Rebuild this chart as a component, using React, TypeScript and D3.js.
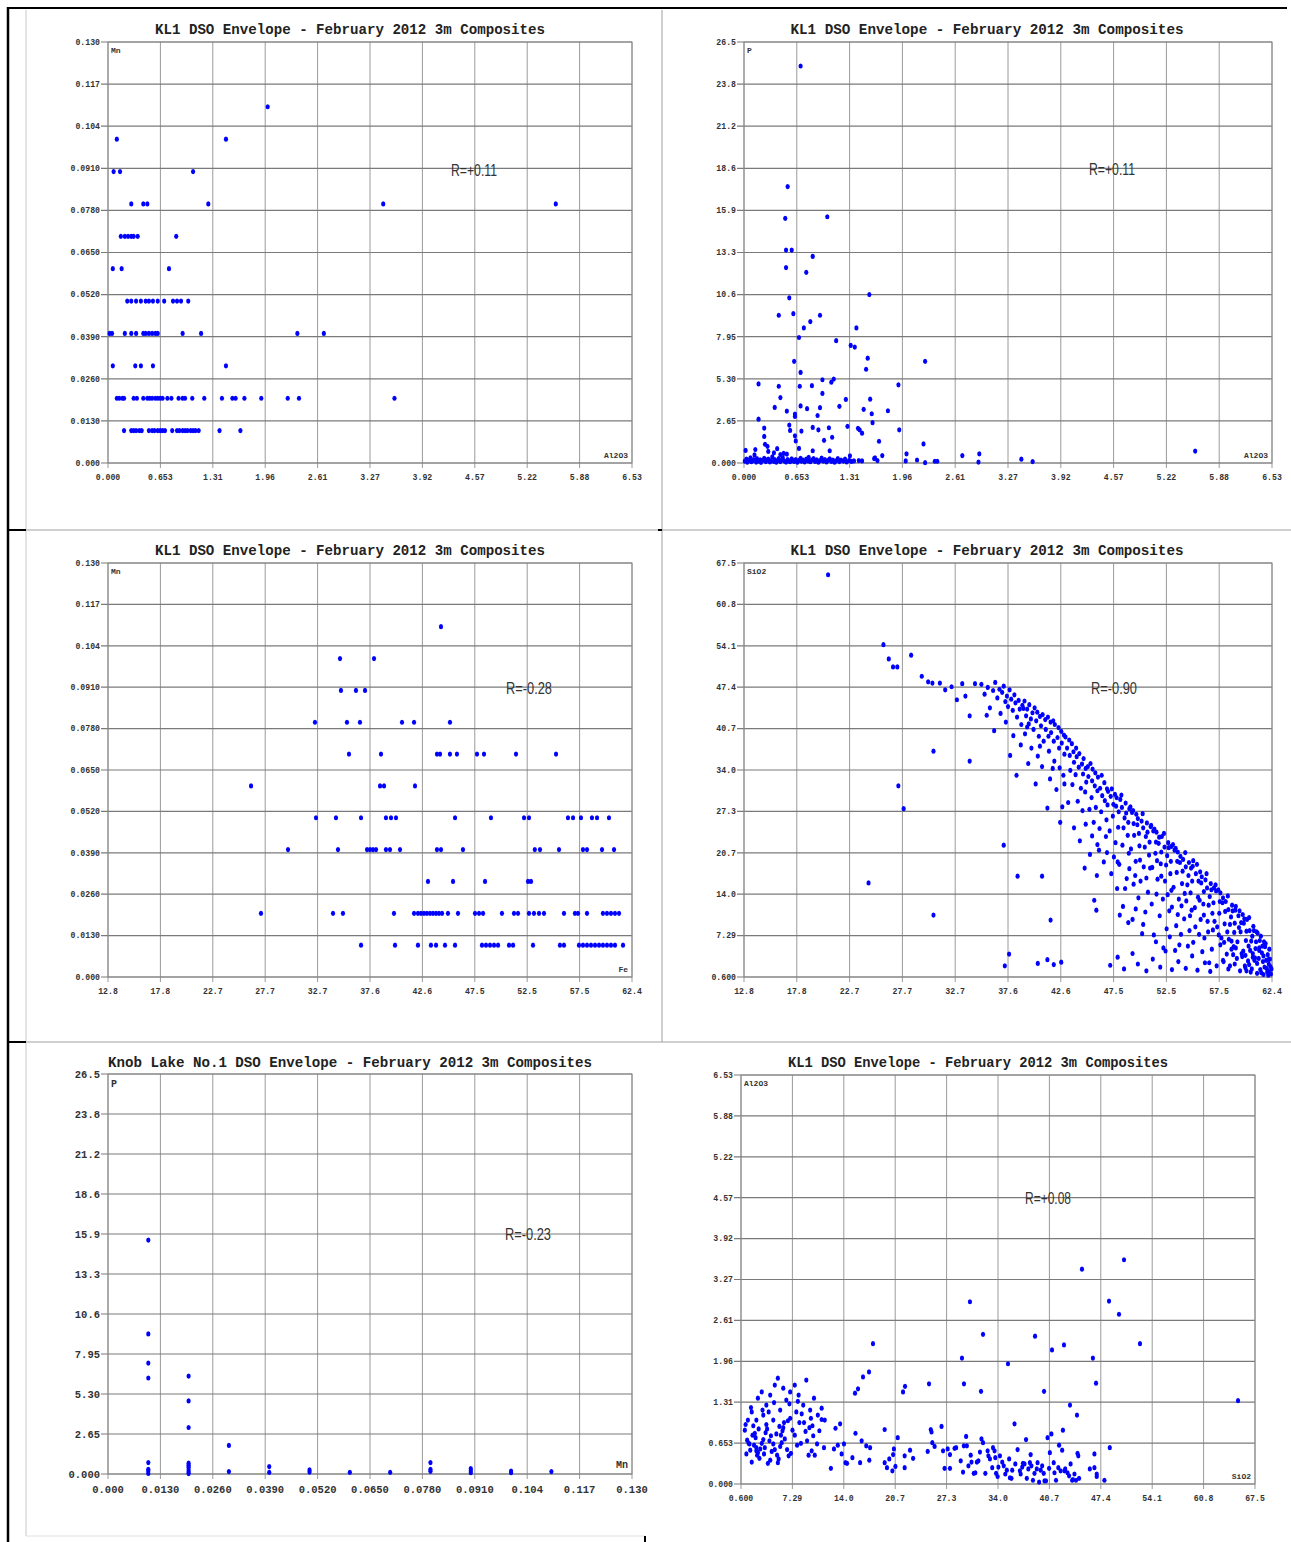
import React from "react";
import * as d3 from "d3";

const W = 1291;
const H = 1542;

// ---------- tick labels ----------
const ticksAl = ["0.000", "0.653", "1.31", "1.96", "2.61", "3.27", "3.92", "4.57", "5.22", "5.88", "6.53"];
const ticksMn = ["0.000", "0.0130", "0.0260", "0.0390", "0.0520", "0.0650", "0.0780", "0.0910", "0.104", "0.117", "0.130"];
const ticksP = ["0.000", "2.65", "5.30", "7.95", "10.6", "13.3", "15.9", "18.6", "21.2", "23.8", "26.5"];
const ticksFe = ["12.8", "17.8", "22.7", "27.7", "32.7", "37.6", "42.6", "47.5", "52.5", "57.5", "62.4"];
const ticksSi = ["0.600", "7.29", "14.0", "20.7", "27.3", "34.0", "40.7", "47.4", "54.1", "60.8", "67.5"];

// ---------- data ----------
// Panel 1: [Al2O3, Mn]
const mnVsAl: [number, number][] = [
  [1.99, 0.11],
  [0.11, 0.10], [1.47, 0.10],
  [0.07, 0.09], [0.15, 0.09], [1.06, 0.09],
  [0.29, 0.08], [0.44, 0.08], [0.49, 0.08], [1.25, 0.08], [3.43, 0.08], [5.58, 0.08],
  [0.16, 0.07], [0.21, 0.07], [0.25, 0.07], [0.29, 0.07], [0.32, 0.07], [0.37, 0.07], [0.85, 0.07],
  [0.06, 0.06], [0.17, 0.06], [0.76, 0.06],
  [0.24, 0.05], [0.29, 0.05], [0.35, 0.05], [0.41, 0.05], [0.47, 0.05], [0.51, 0.05], [0.56, 0.05], [0.62, 0.05], [0.70, 0.05], [0.81, 0.05], [0.86, 0.05], [0.91, 0.05], [1.00, 0.05],
  [0.02, 0.04], [0.05, 0.04], [0.21, 0.04], [0.29, 0.04], [0.35, 0.04], [0.44, 0.04], [0.47, 0.04], [0.51, 0.04], [0.55, 0.04], [0.59, 0.04], [0.62, 0.04], [0.93, 0.04], [1.16, 0.04], [2.36, 0.04], [2.69, 0.04],
  [0.06, 0.03], [0.34, 0.03], [0.41, 0.03], [0.56, 0.03], [1.47, 0.03],
  [0.11, 0.02], [0.14, 0.02], [0.18, 0.02], [0.20, 0.02], [0.32, 0.02], [0.36, 0.02], [0.44, 0.02], [0.49, 0.02], [0.52, 0.02], [0.55, 0.02], [0.59, 0.02], [0.62, 0.02], [0.65, 0.02], [0.68, 0.02], [0.74, 0.02], [0.79, 0.02], [0.88, 0.02], [0.93, 0.02], [0.96, 0.02], [1.05, 0.02], [1.20, 0.02], [1.42, 0.02], [1.55, 0.02], [1.59, 0.02], [1.70, 0.02], [1.91, 0.02], [2.24, 0.02], [2.38, 0.02], [3.57, 0.02],
  [0.20, 0.01], [0.29, 0.01], [0.32, 0.01], [0.35, 0.01], [0.39, 0.01], [0.42, 0.01], [0.51, 0.01], [0.55, 0.01], [0.58, 0.01], [0.62, 0.01], [0.65, 0.01], [0.68, 0.01], [0.71, 0.01], [0.80, 0.01], [0.86, 0.01], [0.89, 0.01], [0.93, 0.01], [0.96, 0.01], [0.99, 0.01], [1.03, 0.01], [1.06, 0.01], [1.09, 0.01], [1.13, 0.01], [1.39, 0.01], [1.65, 0.01],
];

// Panel 2: [Al2O3, P]
const pVsAl: [number, number][] = [
  [0.70, 24.99], [0.54, 17.4], [0.51, 15.4], [1.03, 15.5], [0.52, 13.4], [0.59, 13.4], [0.85, 13.0], [0.52, 12.3], [0.77, 12.0],
  [1.55, 10.6], [0.56, 10.4], [0.43, 9.3], [0.61, 9.4], [0.94, 9.3], [0.74, 8.5], [0.82, 8.9], [1.39, 8.5], [1.14, 7.7], [0.68, 7.9],
  [1.32, 7.4], [1.37, 7.3], [1.53, 6.6], [2.24, 6.4], [0.62, 6.4], [1.51, 5.9], [0.70, 5.7],
  [0.18, 4.98], [0.43, 4.83], [0.69, 4.83], [0.84, 4.87], [0.97, 5.24], [1.08, 5.09], [1.11, 5.28], [1.91, 4.92], [0.45, 4.12], [0.97, 4.38],
  [1.26, 4.0], [1.56, 4.02], [0.38, 3.5], [0.70, 3.59], [0.53, 3.27], [0.63, 3.08], [0.63, 2.93], [0.78, 3.42], [0.94, 3.48], [1.18, 3.57],
  [0.91, 2.99], [1.48, 3.38], [1.78, 3.29], [1.58, 3.10], [1.59, 2.54], [0.18, 2.76], [0.56, 2.39], [0.57, 2.05], [0.25, 2.20], [0.25, 1.67],
  [0.26, 1.18], [0.29, 1.05], [0.30, 0.73], [0.63, 1.71], [0.64, 1.39], [0.71, 2.01], [0.68, 0.92], [0.85, 2.24], [0.92, 2.09], [0.99, 1.43],
  [1.05, 2.22], [1.09, 1.62], [1.28, 2.31], [1.41, 2.18], [1.43, 2.09], [1.46, 1.88], [1.67, 1.37], [1.92, 2.09], [0.02, 0.79], [0.14, 0.85],
  [0.13, 0.51], [0.41, 0.90], [0.37, 0.64], [0.45, 0.53], [0.49, 0.60], [0.53, 0.56], [0.85, 0.77], [1.06, 0.77], [1.31, 0.45], [1.62, 0.32],
  [1.71, 0.47], [2.01, 0.58], [2.0, 0.13], [2.22, 1.20], [2.14, 0.19], [2.24, 0.02], [2.36, 0.11], [2.39, 0.11], [2.70, 0.47], [2.91, 0.58],
  [2.90, 0.06], [3.43, 0.24], [3.57, 0.09], [5.58, 0.75], [1.36, 0.13], [1.42, 0.15], [1.46, 0.13], [1.61, 0.28], [1.65, 0.15],
  [0.01, 0.12], [0.03, 0.25], [0.04, 0.05], [0.06, 0.18], [0.08, 0.32], [0.09, 0.08], [0.11, 0.15], [0.12, 0.22], [0.15, 0.06], [0.16, 0.28],
  [0.18, 0.12], [0.2, 0.2], [0.21, 0.04], [0.23, 0.16], [0.25, 0.3], [0.27, 0.09], [0.28, 0.18], [0.3, 0.25], [0.32, 0.07], [0.33, 0.14],
  [0.35, 0.38], [0.37, 0.1], [0.38, 0.22], [0.4, 0.05], [0.42, 0.16], [0.43, 0.27], [0.45, 0.09], [0.47, 0.19], [0.48, 0.33], [0.5, 0.12],
  [0.52, 0.06], [0.54, 0.21], [0.55, 0.14], [0.57, 0.08], [0.59, 0.26], [0.6, 0.16], [0.62, 0.1], [0.64, 0.22], [0.66, 0.05], [0.68, 0.17],
  [0.7, 0.3], [0.71, 0.11], [0.73, 0.19], [0.75, 0.07], [0.77, 0.24], [0.79, 0.13], [0.8, 0.35], [0.82, 0.08], [0.84, 0.18], [0.86, 0.27],
  [0.88, 0.1], [0.9, 0.2], [0.92, 0.05], [0.94, 0.15], [0.96, 0.31], [0.98, 0.12], [1.0, 0.22], [1.02, 0.07], [1.04, 0.17], [1.06, 0.26],
  [1.08, 0.1], [1.1, 0.19], [1.12, 0.05], [1.14, 0.14], [1.16, 0.28], [1.18, 0.09], [1.2, 0.18], [1.23, 0.12], [1.25, 0.24], [1.27, 0.07],
  [1.3, 0.16], [1.33, 0.1],
];

// Panel 3: [Fe, Mn]
const mnVsFe: [number, number][] = [
  [44.32, 0.11],
  [34.76, 0.10], [37.98, 0.10],
  [34.85, 0.09], [36.27, 0.09], [37.13, 0.09],
  [32.39, 0.08], [35.42, 0.08], [36.65, 0.08], [40.63, 0.08], [41.77, 0.08], [45.17, 0.08],
  [35.61, 0.07], [38.64, 0.07], [43.94, 0.07], [44.23, 0.07], [45.17, 0.07], [45.83, 0.07], [47.73, 0.07], [48.39, 0.07], [51.42, 0.07], [55.21, 0.07],
  [26.34, 0.06], [38.55, 0.06], [38.93, 0.06], [41.86, 0.06],
  [32.49, 0.05], [34.38, 0.05], [36.75, 0.05], [39.11, 0.05], [39.59, 0.05], [40.06, 0.05], [45.65, 0.05], [49.05, 0.05], [52.18, 0.05], [52.65, 0.05], [56.34, 0.05], [56.82, 0.05], [57.57, 0.05], [58.61, 0.05], [59.09, 0.05], [60.22, 0.05],
  [29.84, 0.04], [34.57, 0.04], [37.32, 0.04], [37.60, 0.04], [37.88, 0.04], [38.17, 0.04], [39.11, 0.04], [39.49, 0.04], [40.44, 0.04], [43.94, 0.04], [44.32, 0.04], [46.40, 0.04], [53.20, 0.04], [53.69, 0.04], [55.49, 0.04], [57.76, 0.04], [58.14, 0.04], [59.56, 0.04], [60.70, 0.04],
  [43.09, 0.03], [45.46, 0.03], [48.49, 0.03], [52.56, 0.03], [52.84, 0.03],
  [27.28, 0.02], [34.10, 0.02], [35.04, 0.02], [39.87, 0.02], [41.77, 0.02], [42.14, 0.02], [42.43, 0.02], [42.71, 0.02], [42.99, 0.02], [43.28, 0.02], [43.56, 0.02], [43.85, 0.02], [44.13, 0.02], [44.42, 0.02], [44.98, 0.02], [45.93, 0.02], [47.54, 0.02], [47.92, 0.02], [48.30, 0.02], [50.09, 0.02], [51.23, 0.02], [51.61, 0.02], [52.65, 0.02], [53.12, 0.02], [53.60, 0.02], [54.07, 0.02], [55.96, 0.02], [57.00, 0.02], [57.29, 0.02], [58.14, 0.02], [59.65, 0.02], [60.03, 0.02], [60.41, 0.02], [60.79, 0.02], [61.17, 0.02],
  [36.75, 0.01], [39.97, 0.01], [42.14, 0.01], [43.37, 0.01], [43.85, 0.01], [44.70, 0.01], [45.65, 0.01], [48.20, 0.01], [48.58, 0.01], [48.96, 0.01], [49.34, 0.01], [49.72, 0.01], [50.76, 0.01], [51.14, 0.01], [53.03, 0.01], [55.58, 0.01], [55.96, 0.01], [57.38, 0.01], [57.76, 0.01], [58.14, 0.01], [58.52, 0.01], [58.90, 0.01], [59.28, 0.01], [59.65, 0.01], [60.03, 0.01], [60.41, 0.01], [60.79, 0.01], [61.55, 0.01],
];

// Panel 4: [Fe, SiO2]
const siVsFe: [number, number][] = [
  [20.7, 65.6], [25.9, 54.3], [26.4, 52.0], [26.8, 50.7], [27.2, 50.7], [28.5, 52.6], [24.5, 15.8], [27.3, 31.5], [27.8, 27.8], [30.6, 37.1],
  [30.6, 10.6], [34.0, 35.5], [37.2, 21.9], [38.5, 16.9], [40.8, 16.9], [37.7, 4.3], [37.3, 2.4], [41.6, 9.8], [45.7, 13.0], [45.9, 11.4],
  [40.4, 2.8], [41.3, 3.4], [41.9, 2.6], [42.6, 3.0],
  [29.5, 49.2], [30.1, 48.3], [30.5, 48.1], [31.2, 48.1], [31.7, 47.0], [32.3, 47.5], [32.8, 45.4], [33.3, 48.0], [33.6, 46.0], [34.0, 42.8], [34.5, 48.0],
  [35.1, 47.9], [35.4, 46.3], [35.7, 47.4], [35.9, 44.1], [36.2, 46.9], [36.4, 48.2], [36.6, 45.7], [36.8, 47.1], [36.9, 43.2], [36.3, 40.4], [35.6, 42.9],
  [37.05, 46.6], [37.2, 47.6], [37.35, 45.1], [37.5, 46.0], [37.6, 44.3], [37.75, 47.0], [37.9, 45.5], [38.05, 43.7], [38.2, 46.2], [38.3, 44.9],
  [38.45, 42.6], [38.6, 45.3], [38.7, 43.9], [38.85, 41.4], [38.95, 44.5], [37.4, 41.8], [38.1, 39.6], [38.8, 38.1], [37.8, 36.4], [38.4, 33.2],
  [39.05, 44.0], [39.15, 45.2], [39.3, 42.8], [39.4, 43.9], [39.55, 41.5], [39.6, 44.6], [39.75, 42.3], [39.9, 43.3], [40.0, 40.6], [40.1, 44.1],
  [40.25, 42.0], [40.35, 43.4], [40.5, 39.5], [40.6, 42.7], [40.7, 41.2], [40.85, 43.0], [40.95, 38.7], [39.2, 39.9], [39.8, 37.6], [40.4, 36.3],
  [40.8, 34.6], [39.5, 35.1], [40.2, 31.8],
  [41.1, 42.2], [41.15, 40.6], [41.35, 42.6], [41.4, 39.5], [41.6, 41.8], [41.65, 40.1], [41.85, 42.0], [41.9, 38.7], [42.0, 41.4], [42.25, 39.3],
  [42.35, 40.9], [42.4, 37.6], [42.6, 40.3], [42.65, 38.4], [42.85, 39.7], [42.9, 36.6], [41.45, 37.1], [41.95, 35.5], [42.45, 34.4], [42.8, 33.2],
  [41.55, 32.6], [42.15, 30.9], [42.7, 28.1], [41.3, 27.9], [42.5, 25.6],
  [43.0, 39.4], [43.15, 37.6], [43.35, 38.9], [43.4, 36.4], [43.6, 38.3], [43.75, 37.0], [43.8, 35.3], [44.0, 37.6], [44.05, 36.2], [44.25, 34.5],
  [44.3, 36.7], [44.55, 35.0], [44.65, 33.4], [44.7, 35.9], [44.9, 34.3], [44.95, 32.1], [43.45, 34.0], [43.95, 33.3], [44.45, 31.1], [44.85, 30.5],
  [43.65, 31.7], [44.15, 29.0], [44.6, 27.5], [43.25, 28.8], [44.9, 25.3], [44.35, 22.6],
  [45.1, 34.6], [45.15, 33.0], [45.35, 35.1], [45.5, 32.3], [45.55, 34.2], [45.75, 31.5], [45.8, 33.6], [46.0, 30.7], [46.05, 32.9], [46.25, 31.1],
  [46.4, 33.2], [46.45, 29.9], [46.65, 32.0], [46.7, 29.1], [46.9, 31.0], [46.95, 28.4], [45.45, 29.6], [45.85, 28.0], [46.35, 27.3], [46.85, 26.0],
  [45.25, 27.7], [45.65, 25.6], [46.2, 24.6], [46.8, 23.3], [45.5, 23.4], [46.15, 21.1], [46.6, 19.2], [45.95, 17.0],
  [47.0, 30.6], [47.25, 29.8], [47.35, 31.0], [47.5, 28.5], [47.65, 30.1], [47.75, 28.2], [47.8, 29.6], [48.0, 27.3], [48.15, 29.3], [48.25, 30.0],
  [48.3, 28.0], [48.55, 26.3], [48.65, 28.7], [48.7, 27.1], [48.9, 25.6], [49.0, 27.8], [47.45, 26.6], [47.95, 24.8], [48.45, 24.7], [48.85, 23.5],
  [47.15, 24.2], [47.7, 22.3], [48.35, 21.9], [48.95, 20.6], [47.55, 20.0], [48.05, 18.8], [48.75, 16.5], [47.85, 14.9], [48.4, 12.0],
  [49.1, 28.1], [49.25, 27.2], [49.35, 27.5], [49.4, 25.4], [49.65, 26.9], [49.75, 25.2], [49.8, 26.2], [49.9, 23.8], [50.15, 25.8], [50.25, 27.0],
  [50.3, 24.7], [50.55, 23.3], [50.65, 25.5], [50.7, 24.0], [50.9, 22.4], [51.0, 24.9], [49.45, 23.5], [49.95, 21.8], [50.45, 21.6], [50.85, 20.3],
  [49.15, 21.3], [49.6, 19.3], [50.35, 18.4], [50.95, 18.2], [49.55, 17.0], [50.05, 16.1], [50.75, 14.3], [49.85, 13.4], [50.5, 11.1], [49.3, 9.9], [50.2, 7.6],
  [51.05, 25.1], [51.25, 24.2], [51.35, 24.5], [51.5, 22.4], [51.55, 24.0], [51.75, 22.2], [51.8, 23.2], [52.0, 20.8], [52.05, 23.3], [52.25, 23.8],
  [52.3, 21.6], [52.55, 20.2], [52.65, 22.3], [52.7, 21.5], [52.9, 19.3], [52.95, 21.7], [51.45, 20.6], [51.95, 18.9], [52.45, 18.7], [52.85, 17.3],
  [51.15, 18.3], [51.65, 16.4], [52.35, 16.1], [52.95, 14.6], [51.55, 14.0], [52.15, 13.2], [52.75, 11.3], [51.85, 10.5], [52.5, 8.4], [51.3, 7.4], [52.2, 5.3],
  [53.1, 22.0], [53.25, 21.1], [53.35, 21.4], [53.5, 19.3], [53.55, 20.8], [53.75, 19.1], [53.8, 20.1], [54.0, 17.7], [54.05, 19.6], [54.25, 20.7],
  [54.3, 18.4], [54.55, 17.0], [54.6, 19.1], [54.8, 18.2], [54.9, 16.1], [54.95, 18.5], [53.45, 17.5], [53.95, 15.7], [54.45, 15.5], [54.75, 14.2],
  [53.15, 15.1], [53.65, 13.2], [54.35, 12.9], [54.85, 11.4], [53.55, 10.7], [54.15, 10.0], [54.65, 8.1], [53.85, 7.5], [54.5, 5.6], [53.3, 4.9],
  [55.0, 19.4], [55.25, 17.3], [55.35, 18.8], [55.5, 16.1], [55.65, 17.6], [55.75, 15.8], [55.8, 16.8], [56.0, 14.4], [56.15, 16.3], [56.25, 17.3],
  [56.3, 15.0], [56.55, 13.6], [56.65, 15.7], [56.7, 14.7], [56.9, 12.6], [56.95, 15.0], [55.45, 13.5], [55.95, 12.4], [56.45, 12.2], [56.8, 10.9],
  [55.15, 11.8], [55.7, 9.9], [56.35, 9.6], [56.85, 8.2], [55.55, 7.5], [56.05, 6.9], [56.75, 5.1], [55.85, 4.7], [56.5, 2.9],
  [57.1, 15.5], [57.15, 14.5], [57.35, 14.7], [57.5, 12.8], [57.55, 14.2], [57.75, 12.6], [57.8, 13.4], [58.0, 11.2], [58.05, 12.8], [58.25, 13.7],
  [58.3, 11.5], [58.55, 10.3], [58.65, 12.2], [58.7, 11.3], [58.9, 9.3], [58.95, 11.4], [57.45, 10.9], [57.95, 9.2], [58.45, 9.1], [58.85, 7.8],
  [57.25, 8.7], [57.65, 6.9], [58.35, 6.7], [58.8, 5.5], [57.55, 5.8], [58.15, 4.3], [58.75, 4.2], [57.85, 3.1], [58.45, 2.4],
  [59.0, 12.0], [59.25, 10.5], [59.35, 11.3], [59.5, 9.4], [59.65, 10.7], [59.75, 9.3], [59.8, 10.0], [60.0, 8.0], [60.05, 9.9], [60.25, 10.2],
  [60.3, 8.1], [60.55, 7.2], [60.65, 8.8], [60.7, 8.1], [60.9, 6.3], [60.95, 7.9], [59.45, 7.9], [59.95, 6.5], [60.45, 6.4], [60.85, 5.2],
  [59.15, 6.3], [59.7, 4.8], [60.35, 4.9], [60.8, 3.7], [59.55, 4.4], [60.15, 3.2], [60.75, 3.3], [59.85, 2.4], [60.5, 1.9], [61.0, 2.8], [60.0, 1.6],
  [61.05, 7.7], [61.25, 6.5], [61.35, 7.2], [61.5, 5.6], [61.65, 6.3], [61.75, 5.5], [61.8, 6.0], [62.0, 4.2], [62.15, 5.1], [62.2, 3.5],
  [61.45, 4.5], [61.85, 3.3], [62.05, 3.4], [62.25, 2.3], [61.55, 3.1], [61.15, 3.6], [61.9, 2.0], [62.1, 1.5], [61.3, 1.8], [61.7, 2.2],
  [62.3, 1.1], [61.6, 1.0], [62.05, 0.9], [61.95, 1.4], [62.35, 1.9], [61.4, 1.3],
  [47.2, 2.5], [47.9, 3.8], [48.5, 1.9], [49.3, 4.4], [49.8, 2.7], [50.6, 1.6], [51.2, 3.5], [51.9, 2.2], [52.4, 4.8], [53.0, 1.8],
  [53.6, 3.1], [54.3, 2.0], [54.9, 4.0], [55.4, 1.7], [56.1, 2.9], [56.6, 1.5], [57.2, 2.4], [57.8, 3.3], [58.3, 1.9], [58.9, 2.7],
  [59.4, 1.6], [59.9, 2.1], [60.4, 1.4], [61.0, 1.2], [60.25, 2.6], [59.1, 3.6], [58.6, 5.1], [59.6, 3.9], [60.6, 4.4], [61.2, 4.9],
  [45.3, 20.4], [46.0, 22.0], [46.9, 20.7], [47.3, 17.3], [47.9, 19.2], [48.6, 14.9], [49.0, 18.1], [49.4, 15.6], [50.0, 19.5], [50.6, 16.6],
  [51.1, 12.4], [51.6, 19.4], [52.0, 16.9], [52.6, 13.9], [53.0, 11.9], [53.4, 8.9], [53.9, 12.1], [54.2, 14.1], [54.7, 10.5], [55.2, 8.7],
  [55.6, 13.0], [56.0, 10.6], [56.4, 7.9], [57.0, 9.6], [57.4, 7.4], [57.9, 6.2], [58.2, 7.9], [58.6, 6.4], [59.0, 5.3], [59.3, 8.6],
  [59.9, 4.1], [60.2, 5.6], [60.6, 3.8], [61.2, 5.3], [61.6, 4.0], [62.1, 2.7], [55.0, 6.2], [53.7, 5.8], [52.8, 7.1], [51.5, 6.3],
  [50.3, 9.1], [49.6, 11.6], [48.9, 9.4], [48.1, 10.6], [44.8, 18.2], [43.8, 24.7], [42.9, 31.8], [41.8, 34.3], [40.6, 37.9], [39.4, 41.0],
];

// Panel 5: [Mn, P]
const pVsMn: [number, number][] = [
  [0.01, 15.5], [0.01, 9.28], [0.01, 7.35], [0.01, 6.36], [0.01, 0.76], [0.01, 0.31], [0.01, 0.2], [0.01, 0.04],
  [0.02, 6.49], [0.02, 4.84], [0.02, 3.08], [0.02, 0.72], [0.02, 0.58], [0.02, 0.45], [0.02, 0.27], [0.02, 0.13], [0.02, 0.03],
  [0.03, 1.89], [0.03, 0.16],
  [0.04, 0.49], [0.04, 0.11],
  [0.05, 0.27], [0.05, 0.13],
  [0.06, 0.11],
  [0.07, 0.11],
  [0.08, 0.76], [0.08, 0.31], [0.08, 0.18],
  [0.09, 0.36], [0.09, 0.22], [0.09, 0.09],
  [0.10, 0.2], [0.10, 0.09],
  [0.11, 0.16],
];

// Panel 6: [SiO2, Al2O3]
const alVsSi: [number, number][] = [
  [50.45, 3.58], [44.98, 3.43], [48.5, 2.92], [49.8, 2.71], [52.53, 2.24], [30.4, 2.91], [32.1, 2.39], [38.87, 2.36], [41.08, 2.14], [42.64, 2.22],
  [46.4, 2.01], [35.35, 1.92], [29.36, 2.01], [17.78, 2.24], [17.26, 1.79], [16.48, 1.71], [15.83, 1.52], [15.44, 1.45], [21.95, 1.56], [21.69, 1.47],
  [25.07, 1.60], [29.62, 1.60], [31.84, 1.48], [40.04, 1.48], [46.81, 1.61], [43.42, 1.26], [44.33, 1.10], [65.29, 1.33],
  [2.8, 1.37], [3.3, 1.47], [3.9, 1.26], [4.4, 1.42], [5.0, 1.58], [5.4, 1.69], [6.1, 1.53], [6.5, 1.34], [7.0, 1.47], [7.6, 1.58],
  [8.1, 1.42], [8.7, 1.26], [9.1, 1.66], [9.6, 1.18], [10.1, 1.37], [10.6, 1.10], [11.1, 1.21], [11.5, 1.02], [2.0, 1.15], [2.6, 1.02],
  [3.5, 1.10], [4.2, 1.15], [4.8, 1.02], [5.7, 1.18], [7.0, 1.05], [7.8, 1.15], [1.5, 1.02], [1.1, 0.86], [1.4, 0.70], [1.8, 0.54],
  [1.7, 0.64], [1.6, 0.65], [2.0, 0.35], [2.2, 0.93], [2.4, 0.81], [2.5, 0.74], [2.6, 0.58], [2.6, 0.53], [2.7, 0.46], [2.8, 0.50],
  [3.1, 0.56], [3.3, 0.65], [3.5, 0.71], [3.6, 0.48], [3.8, 0.82], [4.0, 0.88], [4.1, 0.33], [4.3, 0.69], [4.5, 0.77], [4.8, 0.64],
  [5.0, 0.55], [5.2, 0.80], [5.4, 0.34], [5.5, 0.40], [5.7, 0.60], [5.9, 0.66], [6.0, 0.85], [6.1, 0.90], [6.2, 0.98], [6.7, 1.01],
  [7.1, 0.49], [7.6, 0.78], [8.4, 0.65], [8.2, 0.98], [8.8, 0.98], [9.2, 0.69], [9.4, 0.46], [9.8, 0.53], [9.9, 0.93], [10.2, 0.46],
  [10.5, 0.64], [11.1, 1.03], [12.3, 0.25], [12.7, 0.56], [12.9, 0.89], [13.2, 0.62], [13.5, 0.96], [13.7, 0.48], [14.0, 0.64], [14.2, 0.34],
  [14.4, 0.33], [15.1, 0.42], [15.5, 0.81], [16.3, 0.69], [16.1, 0.34], [16.9, 0.61], [17.4, 0.58], [17.3, 0.38], [19.3, 0.87], [19.3, 0.34],
  [19.6, 0.26], [19.9, 0.40], [20.3, 0.21], [20.4, 0.47], [20.5, 0.56], [20.7, 0.28], [21.0, 0.74], [21.9, 0.45], [21.9, 0.26], [22.6, 0.54],
  [23.0, 0.41], [24.9, 0.52], [25.3, 0.87], [25.4, 0.83], [25.5, 0.66], [25.8, 0.60], [26.7, 0.92], [26.9, 0.53], [27.1, 0.25], [27.5, 0.56],
  [27.8, 0.47], [27.8, 0.25], [28.4, 0.57], [28.6, 0.58], [29.2, 0.37], [29.5, 0.19], [29.6, 0.61], [29.9, 0.76], [30.0, 0.61], [30.2, 0.29],
  [30.5, 0.46], [30.6, 0.35], [30.9, 0.17], [31.1, 0.18], [31.3, 0.35], [31.5, 0.37], [31.7, 0.51], [31.9, 0.72], [32.1, 0.66], [32.4, 0.17],
  [32.7, 0.53], [32.8, 0.45], [33.0, 0.40], [33.3, 0.26], [33.4, 0.58], [33.6, 0.53], [33.7, 0.42], [33.8, 0.17], [34.0, 0.12], [34.1, 0.27],
  [34.3, 0.45], [34.6, 0.35], [34.8, 0.29], [35.0, 0.16], [35.2, 0.22], [35.5, 0.40], [35.6, 0.10], [35.8, 0.09], [35.9, 0.22], [36.2, 0.96],
  [36.3, 0.32], [36.6, 0.55], [36.9, 0.21], [37.0, 0.16], [37.2, 0.27], [37.3, 0.33], [37.5, 0.32], [37.7, 0.71], [37.8, 0.09], [38.0, 0.24],
  [38.2, 0.34], [38.3, 0.47], [38.4, 0.29], [38.6, 0.06], [38.8, 0.17], [39.1, 0.24], [39.2, 0.34], [39.4, 0.03], [39.6, 0.22], [39.8, 0.29],
  [40.0, 0.17], [40.1, 0.05], [40.3, 0.05], [40.5, 0.74], [40.7, 0.25], [40.8, 0.50], [41.0, 0.80], [41.3, 0.34], [41.4, 0.18], [41.6, 0.06],
  [41.9, 0.26], [42.0, 0.62], [42.2, 0.21], [42.4, 0.54], [42.5, 0.86], [42.7, 0.21], [42.8, 0.24], [43.1, 0.18], [43.3, 0.13], [43.5, 0.32],
  [43.7, 0.06], [43.8, 0.07], [44.0, 0.16], [44.2, 0.06], [44.4, 0.49], [44.5, 0.45], [44.6, 0.09], [46.0, 0.24], [46.6, 0.48], [46.6, 0.26],
  [46.9, 0.16], [46.9, 0.12], [47.9, 0.06], [48.6, 0.58],
  [1.2, 0.95], [1.9, 1.22], [2.3, 0.62], [2.9, 0.88], [3.0, 0.41], [3.4, 1.18], [3.7, 0.58], [4.6, 0.52], [4.9, 1.30], [5.3, 0.46],
  [5.6, 0.92], [6.3, 0.72], [6.6, 0.55], [6.9, 1.28], [7.3, 0.86], [7.9, 0.62], [8.5, 1.12], [9.0, 0.84], [9.5, 0.90], [10.0, 0.77],
  [10.8, 0.85], [11.4, 0.58], [1.3, 0.48], [2.1, 0.78], [3.9, 0.95], [4.4, 0.38], [5.8, 0.78], [6.8, 0.45], [8.0, 1.32], [9.7, 1.05],
];

// ---------- panel layout ----------
type PanelCfg = {
  title: string;
  titleX: number;
  titleY: number;
  titleW: number;
  left: number;
  right: number;
  top: number;
  bottom: number;
  xTicks: string[];
  yTicks: string[];
  xName: string;
  yName: string;
  rText: string;
  rX: number;
  rY: number;
  data: [number, number][];
  tickFont: number;
  big?: boolean;
};

const T1 = "KL1 DSO Envelope - February 2012 3m Composites";

const panels: PanelCfg[] = [
  { title: T1, titleX: 350, titleY: 34, titleW: 390, left: 108, right: 632, top: 42, bottom: 463, xTicks: ticksAl, yTicks: ticksMn, xName: "Al2O3", yName: "Mn", rText: "R=+0.11", rX: 451, rY: 176, data: mnVsAl, tickFont: 8.2 },
  { title: T1, titleX: 987, titleY: 34, titleW: 393, left: 744, right: 1272, top: 42, bottom: 463, xTicks: ticksAl, yTicks: ticksP, xName: "Al2O3", yName: "P", rText: "R=+0.11", rX: 1089, rY: 175, data: pVsAl, tickFont: 8.2 },
  { title: T1, titleX: 350, titleY: 555, titleW: 390, left: 108, right: 632, top: 563, bottom: 977, xTicks: ticksFe, yTicks: ticksMn, xName: "Fe", yName: "Mn", rText: "R=-0.28", rX: 506, rY: 694, data: mnVsFe, tickFont: 8.2 },
  { title: T1, titleX: 987, titleY: 555, titleW: 393, left: 744, right: 1272, top: 563, bottom: 977, xTicks: ticksFe, yTicks: ticksSi, xName: "", yName: "SiO2", rText: "R=-0.90", rX: 1091, rY: 694, data: siVsFe, tickFont: 8.2 },
  { title: "Knob Lake No.1 DSO Envelope - February 2012 3m Composites", titleX: 350, titleY: 1067, titleW: 484, left: 108, right: 632, top: 1074, bottom: 1474, xTicks: ticksMn, yTicks: ticksP, xName: "Mn", yName: "P", rText: "R=-0.23", rX: 505, rY: 1240, data: pVsMn, tickFont: 10.5, big: true },
  { title: T1, titleX: 978, titleY: 1067, titleW: 380, left: 741, right: 1255, top: 1075, bottom: 1484, xTicks: ticksSi, yTicks: ticksAl, xName: "SiO2", yName: "Al2O3", rText: "R=+0.08", rX: 1025, rY: 1204, data: alVsSi, tickFont: 8.2 },
];

const MONO = "'Liberation Mono', 'DejaVu Sans Mono', monospace";

function Panel({ cfg }: { cfg: PanelCfg }) {
  const xd = [parseFloat(cfg.xTicks[0]), parseFloat(cfg.xTicks[cfg.xTicks.length - 1])];
  const yd = [parseFloat(cfg.yTicks[0]), parseFloat(cfg.yTicks[cfg.yTicks.length - 1])];
  const x = d3.scaleLinear().domain(xd).range([cfg.left, cfg.right]);
  const y = d3.scaleLinear().domain(yd).range([cfg.bottom, cfg.top]);
  const n = cfg.xTicks.length - 1;
  const xPos = cfg.xTicks.map((_, i) => x(xd[0] + ((xd[1] - xd[0]) * i) / n));
  const yPos = cfg.yTicks.map((_, i) => y(yd[0] + ((yd[1] - yd[0]) * i) / n));
  const fs = cfg.tickFont;
  return (
    <g>
      <text x={cfg.titleX} y={cfg.titleY} textAnchor="middle" fontFamily={MONO} fontSize={15.5} fontWeight="bold" fill="#222" textLength={cfg.titleW} lengthAdjust="spacingAndGlyphs">
        {cfg.title}
      </text>
      {xPos.map((px, i) => (
        <line key={"v" + i} x1={px} x2={px} y1={cfg.top} y2={cfg.bottom + 5} stroke="#9a9a9a" strokeWidth={1} />
      ))}
      {yPos.map((py, i) => (
        <line key={"h" + i} x1={cfg.left - 7} x2={cfg.right} y1={py} y2={py} stroke="#7a7a7a" strokeWidth={1.2} />
      ))}
      <rect x={cfg.left} y={cfg.top} width={cfg.right - cfg.left} height={cfg.bottom - cfg.top} fill="none" stroke="#8a8a8a" strokeWidth={1} />
      {cfg.xTicks.map((t, i) => (
        <text key={"xt" + i} x={xPos[i]} y={cfg.bottom + (cfg.big ? 19 : 17)} textAnchor="middle" fontFamily={MONO} fontSize={fs} fontWeight="bold" fill="#333">
          {t}
        </text>
      ))}
      {cfg.yTicks.map((t, i) => (
        <text key={"yt" + i} x={cfg.left - 8} y={yPos[i] + fs * 0.35} textAnchor="end" fontFamily={MONO} fontSize={fs} fontWeight="bold" fill="#333">
          {t}
        </text>
      ))}
      <text x={cfg.left + 3} y={cfg.top + (cfg.big ? 13 : 11)} fontFamily={MONO} fontSize={cfg.big ? 10 : 8} fontWeight="bold" fill="#333">
        {cfg.yName}
      </text>
      {cfg.xName && (
        <text x={cfg.right - 4} y={cfg.bottom - (cfg.big ? 6 : 5)} textAnchor="end" fontFamily={MONO} fontSize={cfg.big ? 10 : 8} fontWeight="bold" fill="#333">
          {cfg.xName}
        </text>
      )}
      <text x={cfg.rX} y={cfg.rY} fontFamily="'Liberation Sans Narrow', 'Liberation Sans', Arial, sans-serif" fontSize={16} fill="#333" textLength={46} lengthAdjust="spacingAndGlyphs">
        {cfg.rText}
      </text>
      {cfg.data.map((d, i) => (
        <ellipse key={"p" + i} cx={x(d[0])} cy={y(d[1])} rx={2.1} ry={2.6} fill="#0000ff" />
      ))}
    </g>
  );
}

export default function App() {
  return (
    <svg width={W} height={H} viewBox={`0 0 ${W} ${H}`} style={{ position: "absolute", left: 0, top: 0, background: "#fff" }}>
      <rect x={0} y={0} width={W} height={H} fill="#fff" />
      <line x1={26} x2={W} y1={530} y2={530} stroke="#a0a0a0" strokeWidth={1} />
      <line x1={26} x2={W} y1={1042} y2={1042} stroke="#a0a0a0" strokeWidth={1} />
      <line x1={662} x2={662} y1={10} y2={1042} stroke="#a0a0a0" strokeWidth={1} />
      <line x1={26} x2={26} y1={10} y2={1536} stroke="#c8c8c8" strokeWidth={1} />
      <line x1={26} x2={645} y1={1536} y2={1536} stroke="#e0e0e0" strokeWidth={1} />
      <line x1={8} x2={1287} y1={8} y2={8} stroke="#000" strokeWidth={2} />
      <line x1={8} x2={8} y1={7} y2={H} stroke="#000" strokeWidth={2.5} />
      <line x1={8} x2={26} y1={530} y2={530} stroke="#000" strokeWidth={2} />
      <line x1={8} x2={26} y1={1042} y2={1042} stroke="#000" strokeWidth={2} />
      <line x1={658} x2={662} y1={530} y2={530} stroke="#000" strokeWidth={2} />
      <line x1={645} x2={645} y1={1536} y2={H} stroke="#000" strokeWidth={2} />
      {panels.map((p, i) => (
        <Panel key={i} cfg={p} />
      ))}
    </svg>
  );
}
